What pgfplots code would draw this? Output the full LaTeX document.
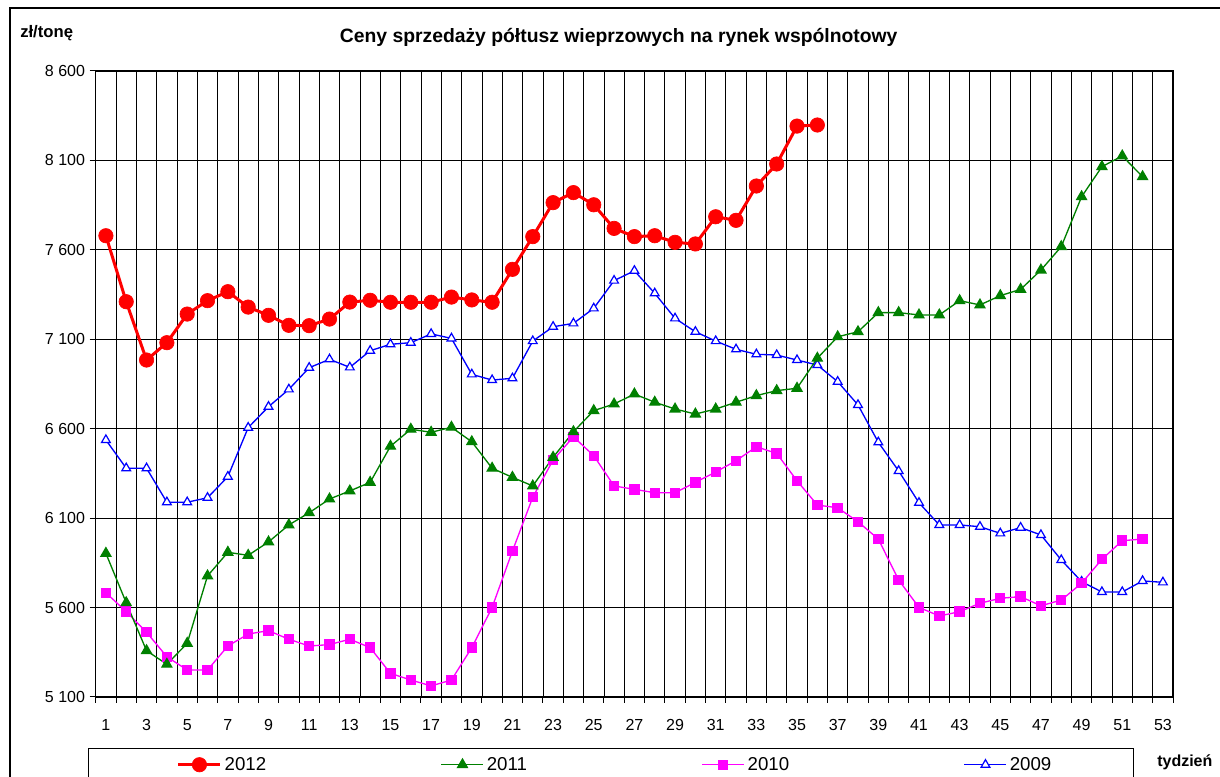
\documentclass[border=0pt]{standalone}
\usepackage{pgfplots}
\pgfplotsset{compat=1.18}
\usepackage{pgfplotstable}
\usepackage{fontspec}
\setmainfont{Liberation Sans}

\definecolor{cred}{RGB}{255,0,0}
\definecolor{cgreen}{RGB}{0,128,0}
\definecolor{cmag}{RGB}{255,0,255}
\definecolor{cblue}{RGB}{0,0,255}

\pgfplotstableread{
w v
1 7679
2 7310
3 6984
4 7081
5 7241
6 7316
7 7366
8 7280
9 7234
10 7178
11 7176
12 7213
13 7308
14 7318
15 7307
16 7307
17 7307
18 7336
19 7320
20 7307
21 7491
22 7674
23 7864
24 7920
25 7852
26 7720
27 7674
28 7679
29 7642
30 7633
31 7785
32 7765
33 7957
34 8080
35 8292
36 8298
}\dataA

\pgfplotstableread{
w v
1 5903
2 5627
3 5359
4 5283
5 5400
6 5777
7 5909
8 5892
9 5967
10 6062
11 6130
12 6207
13 6252
14 6300
15 6502
16 6597
17 6580
18 6608
19 6527
20 6379
21 6328
22 6280
23 6440
24 6583
25 6701
26 6738
27 6794
28 6748
29 6710
30 6682
31 6710
32 6748
33 6785
34 6813
35 6826
36 6994
37 7114
38 7142
39 7249
40 7249
41 7236
42 7236
43 7316
44 7292
45 7344
46 7379
47 7487
48 7618
49 7897
50 8065
51 8125
52 8009
}\dataB

\pgfplotstableread{
w v
1 5683
2 5577
3 5462
4 5325
5 5251
6 5251
7 5385
8 5452
9 5471
10 5423
11 5385
12 5393
13 5423
14 5376
15 5232
16 5195
17 5162
18 5195
19 5376
20 5601
21 5916
22 6217
23 6425
24 6555
25 6449
26 6280
27 6261
28 6242
29 6242
30 6300
31 6358
32 6421
33 6499
34 6462
35 6309
36 6173
37 6158
38 6080
39 5983
40 5754
41 5601
42 5553
43 5577
44 5624
45 5652
46 5661
47 5610
48 5642
49 5736
50 5870
51 5974
52 5983
}\dataC

\pgfplotstableread{
w v
1 6537
2 6379
3 6379
4 6189
5 6189
6 6214
7 6332
8 6606
9 6723
10 6820
11 6941
12 6988
13 6943
14 7036
15 7072
16 7081
17 7130
18 7105
19 6904
20 6872
21 6882
22 7090
23 7170
24 7189
25 7273
26 7428
27 7483
28 7357
29 7217
30 7142
31 7090
32 7044
33 7016
34 7012
35 6984
36 6956
37 6863
38 6733
39 6524
40 6364
41 6186
42 6062
43 6062
44 6052
45 6015
46 6047
47 6006
48 5866
49 5745
50 5687
51 5687
52 5749
53 5741
}\dataD

\begin{document}
\begin{tikzpicture}[x=1pt,y=1pt]
\useasboundingbox (0,0) rectangle (915,582.75);
\draw[line width=1.1pt] (7.5,-20) -- (7.5,576.75) -- (940,576.75);
\draw[line width=0.75pt] (66,-20) -- (66,21) -- (849.75,21) -- (849.75,-20);
\begin{axis}[
  at={(71.8pt,60pt)}, anchor=south west,
  scale only axis, width=808pt, height=469.5pt,
  xmin=0.5, xmax=53.5, ymin=5100, ymax=8600,
  xtick={0.5,1.5,...,53.5}, xticklabels={},
  extra x ticks={1,3,...,53},
  extra x tick style={grid=none, major tick length=0pt, xticklabel style={yshift=-13.5pt}},
  ytick={5100,5600,6100,6600,7100,7600,8100,8600},
  yticklabels={5 100,5 600,6 100,6 600,7 100,7 600,8 100,8 600},
  /pgf/number format/assume math mode=true,
  ticklabel style={font=\fontsize{12}{14}\selectfont},
  tick align=outside, major tick length=4.5pt,
  xtick pos=left, ytick pos=left,
  tick style={black, line width=0.75pt},
  grid=major, major grid style={black, line width=0.6pt},
  axis line style={black, line width=1pt},
  legend columns=4, reverse legend,
  legend style={at={(-0.00715,-0.083)}, anchor=north west, draw=none, fill=none,
    inner xsep=66.5pt, inner ysep=4pt, font=\fontsize{14}{16}\selectfont,
    /tikz/every even column/.append style={column sep=129pt}},
  legend image code/.code={\draw[mark repeat=2,mark phase=2] plot coordinates {(0pt,0pt)(15.75pt,0pt)(31.5pt,0pt)};},
]
\addplot[cblue, line width=1pt, mark=triangle*, mark size=3.8pt, mark options={fill=white, draw=cblue, line width=0.9pt}] table[x=w,y=v] {\dataD};
\addlegendentry{2009}
\addplot[cmag, line width=1pt, mark=square*, mark size=3.4pt, mark options={fill=cmag, draw=cmag}] table[x=w,y=v] {\dataC};
\addlegendentry{2010}
\addplot[cgreen, line width=1pt, mark=triangle*, mark size=4.2pt, mark options={fill=cgreen, draw=cgreen}] table[x=w,y=v] {\dataB};
\addlegendentry{2011}
\addplot[cred, line width=2.25pt, mark=*, mark size=5.4pt, mark options={fill=cred, draw=cred, line width=0.5pt}] table[x=w,y=v] {\dataA};
\addlegendentry{2012}
\end{axis}
\node[anchor=center, font=\fontsize{14.5}{17}\selectfont\bfseries] at (464,554.5) {Ceny sprzedaży półtusz wieprzowych na rynek wspólnotowy};
\node[anchor=west, inner sep=0pt, font=\fontsize{12.5}{15}\selectfont\bfseries] at (15,558) {zł/tonę};
\node[anchor=west, inner sep=0pt, font=\fontsize{12}{14}\selectfont\bfseries] at (867.75,11.25) {tydzień};
\end{tikzpicture}
\end{document}
